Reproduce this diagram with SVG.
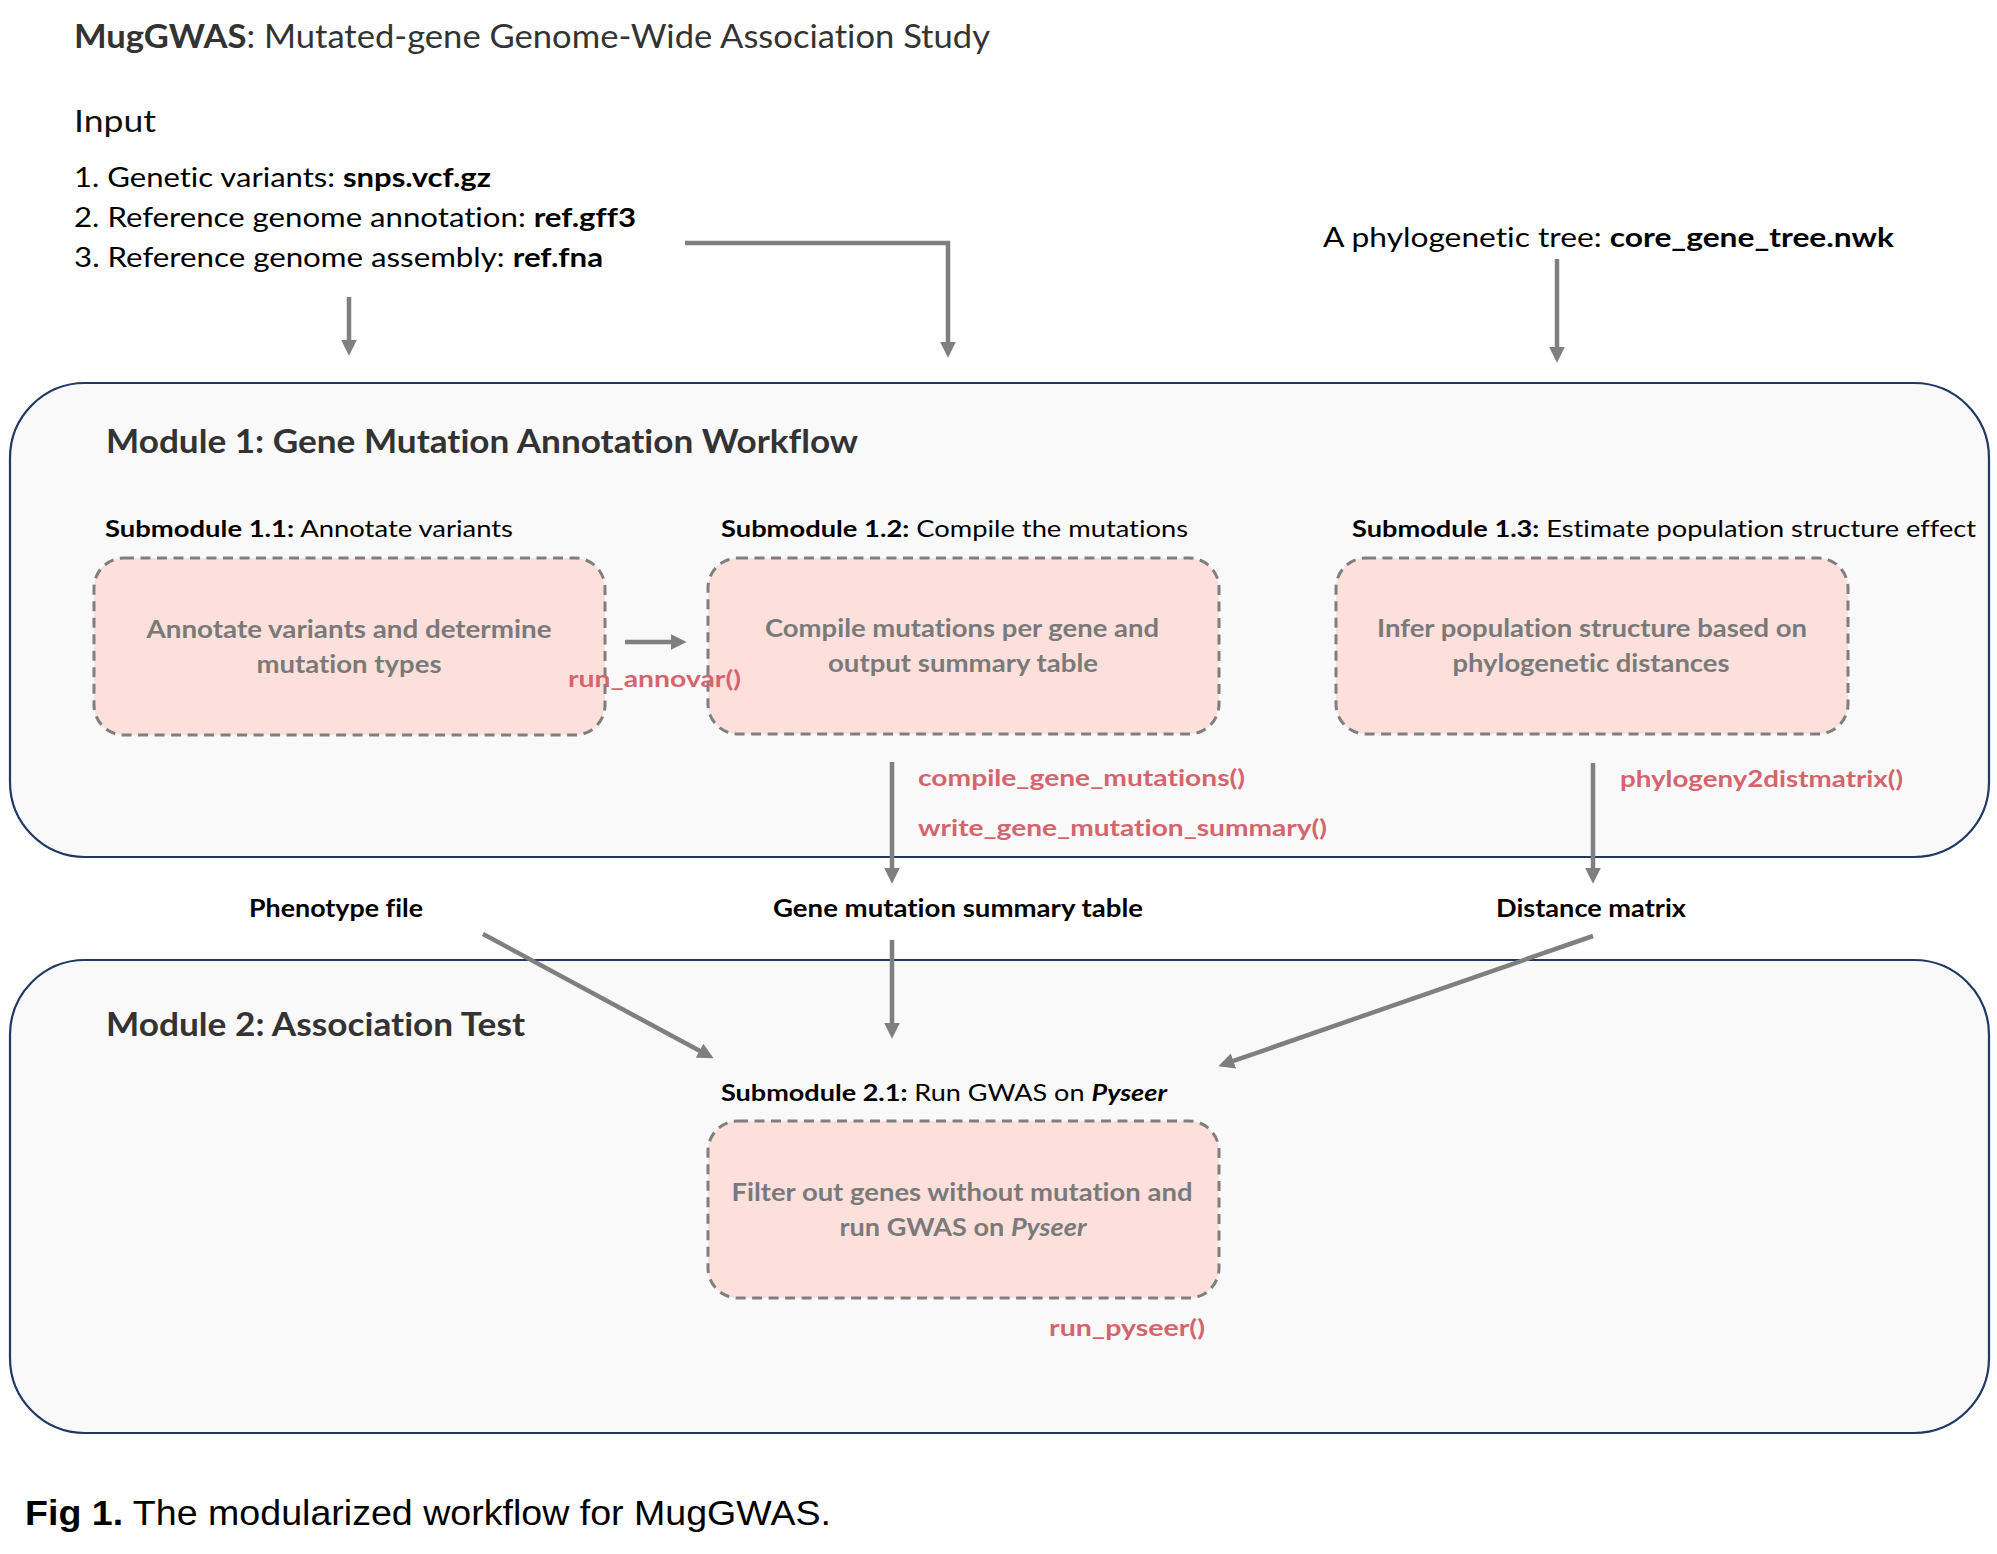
<svg xmlns="http://www.w3.org/2000/svg" width="1997" height="1554" viewBox="0 0 1997 1554">
<style>
text{font-family:Lato,"Open Sans","Liberation Sans",sans-serif;font-variant-ligatures:none;}
text.cap{font-family:"Liberation Sans",Arial,sans-serif;}
.b{font-weight:700;}
.bi{font-weight:700;font-style:italic;}
.module{fill:#f9f9f9;stroke:#1f3864;stroke-width:2.2;}
.sub{fill:#fde0dc;stroke:#7f7f7f;stroke-width:3;stroke-dasharray:10 6.5;}
.mtitle{font-size:32px;font-weight:700;fill:#333333;}
.sublbl{font-size:23px;fill:#000;}
.boxtxt{font-size:25px;font-weight:700;fill:#7a7a7a;text-anchor:middle;}
.fn{font-size:23px;font-weight:700;fill:#d5646e;}
.lbl{font-size:24px;font-weight:700;fill:#000;}
.inp{font-size:26px;fill:#000;}
.conn{stroke:#7f7f7f;stroke-width:4.5;fill:none;marker-end:url(#ah);}
</style>
<defs>
<marker id="ah" markerUnits="userSpaceOnUse" markerWidth="16" markerHeight="16" viewBox="0 0 15 15" refX="5" refY="7.5" orient="auto">
<path d="M0,0 L15,7.5 L0,15 z" fill="#7f7f7f"/>
</marker>
</defs>
<rect width="1997" height="1554" fill="#ffffff"/>

<g id="header">
<text x="74" y="48" font-size="32" fill="#333333" textLength="916" lengthAdjust="spacingAndGlyphs"><tspan class="b">MugGWAS</tspan>: Mutated-gene Genome-Wide Association Study</text>
</g>

<g id="input">
<text x="74" y="132" font-size="31" fill="#111" textLength="82" lengthAdjust="spacingAndGlyphs">Input</text>
<text class="inp" x="74" y="187" textLength="417" lengthAdjust="spacingAndGlyphs">1. Genetic variants: <tspan class="b">snps.vcf.gz</tspan></text>
<text class="inp" x="74" y="227" textLength="562" lengthAdjust="spacingAndGlyphs">2. Reference genome annotation: <tspan class="b">ref.gff3</tspan></text>
<text class="inp" x="74" y="267" textLength="529" lengthAdjust="spacingAndGlyphs">3. Reference genome assembly: <tspan class="b">ref.fna</tspan></text>
</g>

<g id="tree-input">
<text class="inp" x="1323" y="247" textLength="571" lengthAdjust="spacingAndGlyphs">A phylogenetic tree: <tspan class="b">core_gene_tree.nwk</tspan></text>
</g>

<g id="module1">
<rect class="module" x="10" y="383" width="1979" height="474" rx="75" ry="75"/>
<text class="mtitle" x="106" y="453" textLength="752" lengthAdjust="spacingAndGlyphs">Module 1: Gene Mutation Annotation Workflow</text>
</g>

<g id="module2">
<rect class="module" x="10" y="960" width="1979" height="473" rx="75" ry="75"/>
<text class="mtitle" x="106" y="1036" textLength="419" lengthAdjust="spacingAndGlyphs">Module 2: Association Test</text>
</g>

<g id="sub11">
<text class="sublbl" x="105" y="537" textLength="408" lengthAdjust="spacingAndGlyphs"><tspan class="b">Submodule 1.1:</tspan> Annotate variants</text>
<rect class="sub" x="94" y="558" width="511" height="177" rx="30" ry="30"/>
<text class="boxtxt" x="349" y="638" textLength="405" lengthAdjust="spacingAndGlyphs">Annotate variants and determine</text>
<text class="boxtxt" x="349" y="673" textLength="185" lengthAdjust="spacingAndGlyphs">mutation types</text>
</g>

<g id="sub12">
<text class="sublbl" x="721" y="537" textLength="467" lengthAdjust="spacingAndGlyphs"><tspan class="b">Submodule 1.2:</tspan> Compile the mutations</text>
<rect class="sub" x="708" y="558" width="511" height="176" rx="30" ry="30"/>
<text class="boxtxt" x="962" y="637" textLength="394" lengthAdjust="spacingAndGlyphs">Compile mutations per gene and</text>
<text class="boxtxt" x="963" y="672" textLength="270" lengthAdjust="spacingAndGlyphs">output summary table</text>
</g>

<g id="sub13">
<text class="sublbl" x="1352" y="537" textLength="624" lengthAdjust="spacingAndGlyphs"><tspan class="b">Submodule 1.3:</tspan> Estimate population structure effect</text>
<rect class="sub" x="1336" y="558" width="512" height="176" rx="30" ry="30"/>
<text class="boxtxt" x="1592" y="637" textLength="430" lengthAdjust="spacingAndGlyphs">Infer population structure based on</text>
<text class="boxtxt" x="1591" y="672" textLength="277" lengthAdjust="spacingAndGlyphs">phylogenetic distances</text>
</g>

<g id="sub21">
<text class="sublbl" x="721" y="1101" textLength="446" lengthAdjust="spacingAndGlyphs"><tspan class="b">Submodule 2.1:</tspan> Run GWAS on <tspan class="bi">Pyseer</tspan></text>
<rect class="sub" x="708" y="1121" width="511" height="177" rx="30" ry="30"/>
<text class="boxtxt" x="962" y="1201" textLength="461" lengthAdjust="spacingAndGlyphs">Filter out genes without mutation and</text>
<text class="boxtxt" x="963" y="1236" textLength="247" lengthAdjust="spacingAndGlyphs">run GWAS on <tspan font-style="italic">Pyseer</tspan></text>
</g>

<g id="data-labels">
<text class="lbl" x="249" y="917" textLength="174" lengthAdjust="spacingAndGlyphs">Phenotype file</text>
<text class="lbl" x="773" y="917" textLength="370" lengthAdjust="spacingAndGlyphs">Gene mutation summary table</text>
<text class="lbl" x="1496" y="917" textLength="190" lengthAdjust="spacingAndGlyphs">Distance matrix</text>
</g>

<g id="connectors">
<line class="conn" x1="349" y1="297" x2="349" y2="345"/>
<path class="conn" d="M685,243 H948 V347"/>
<line class="conn" x1="1557" y1="259" x2="1557" y2="352"/>
<line class="conn" x1="625" y1="642" x2="676" y2="642"/>
<line class="conn" x1="892" y1="762" x2="892" y2="873"/>
<line class="conn" x1="1593" y1="763" x2="1593" y2="873"/>
<line class="conn" x1="483" y1="934" x2="704.2" y2="1053.3"/>
<line class="conn" x1="892" y1="940" x2="892" y2="1028"/>
<line class="conn" x1="1593" y1="936" x2="1228.4" y2="1062.7"/>
</g>

<g id="function-labels">
<text class="fn" x="568" y="687" textLength="173" lengthAdjust="spacingAndGlyphs">run_annovar()</text>
<text class="fn" x="918" y="786" textLength="327" lengthAdjust="spacingAndGlyphs">compile_gene_mutations()</text>
<text class="fn" x="918" y="836" textLength="409" lengthAdjust="spacingAndGlyphs">write_gene_mutation_summary()</text>
<text class="fn" x="1620" y="787" textLength="283" lengthAdjust="spacingAndGlyphs">phylogeny2distmatrix()</text>
<text class="fn" x="1049" y="1336" textLength="156" lengthAdjust="spacingAndGlyphs">run_pyseer()</text>
</g>

<g id="caption">
<text class="cap" x="25" y="1525" font-size="35" fill="#000" textLength="806" lengthAdjust="spacingAndGlyphs"><tspan font-weight="700">Fig 1.</tspan> The modularized workflow for MugGWAS.</text>
</g>
</svg>
